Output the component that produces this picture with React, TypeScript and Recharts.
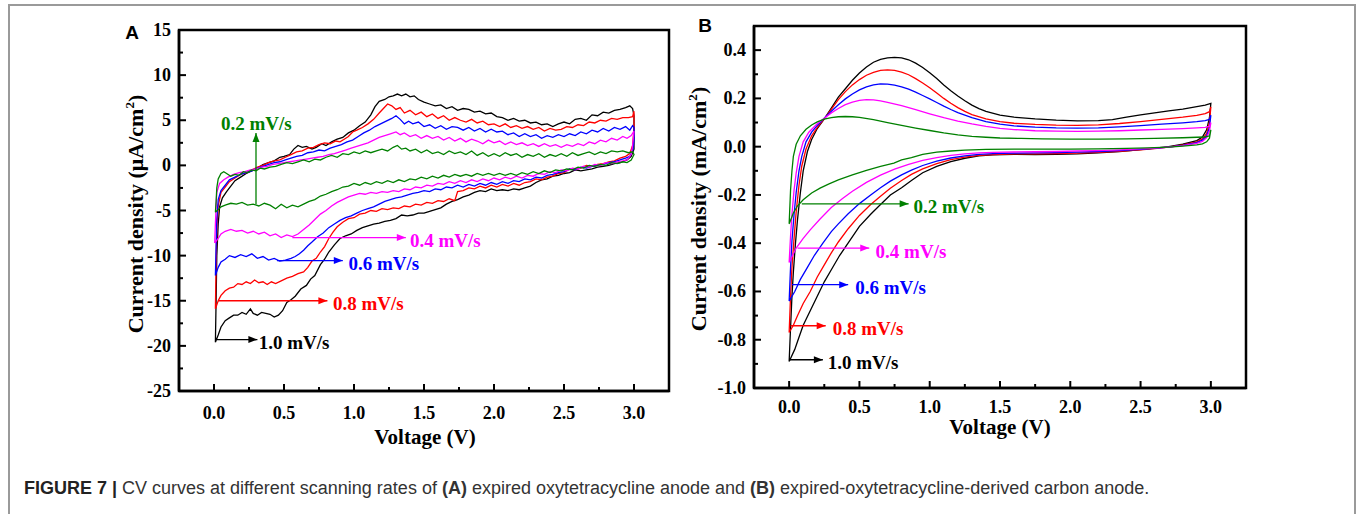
import React from 'react';
import { ComposedChart, Line, XAxis, YAxis, ReferenceArea, ReferenceDot } from 'recharts';

type P = [number, number];

// ---------- Panel A : expired oxytetracycline anode (µA/cm²) ----------
const A_RATE_10: P[] = [
  [0.01,-19.6],[0.015,-15],[0.02,-10],[0.03,-6.5],[0.04,-4.6],[0.06,-3.6],[0.09,-2.9],[0.12,-2.3],[0.15,-1.7],[0.19,-1.3],[0.23,-0.9],[0.27,-0.6],[0.31,-0.3],[0.35,0.1],[0.39,0.3],[0.43,0.5],[0.47,0.9],[0.5,1.0],[0.54,1.2],[0.57,1.8],[0.6,2.2],[0.63,2.0],[0.66,2.1],[0.7,1.8],[0.73,2.0],[0.77,2.4],[0.8,2.2],[0.84,2.6],[0.88,2.9],[0.92,3.1],[0.96,3.6],[1.0,3.9],[1.04,4.4],[1.08,4.8],[1.12,5.6],[1.15,6.5],[1.18,7.1],[1.22,7.3],[1.25,7.6],[1.28,7.7],[1.31,7.9],[1.34,7.7],[1.37,7.9],[1.4,7.6],[1.43,7.7],[1.46,7.3],[1.5,7.0],[1.54,6.8],[1.58,6.6],[1.62,6.7],[1.66,6.3],[1.7,6.5],[1.74,6.1],[1.78,6.3],[1.82,6.2],[1.86,5.9],[1.9,6.0],[1.94,5.7],[1.98,5.8],[2.02,5.4],[2.06,5.3],[2.1,5.0],[2.14,5.2],[2.18,4.9],[2.22,5.0],[2.26,4.7],[2.3,4.8],[2.34,4.5],[2.38,4.6],[2.42,4.3],[2.46,4.6],[2.5,4.8],[2.54,4.6],[2.58,5.1],[2.62,5.2],[2.66,5.0],[2.7,5.6],[2.74,5.5],[2.78,5.9],[2.82,5.8],[2.86,6.1],[2.9,6.2],[2.94,6.4],[2.97,6.6],[2.99,6.3],[3.0,5.5],[3.0,3.5],[3.0,1.8],
  [2.98,1.0],[2.95,0.6],[2.9,0.3],[2.86,0.2],[2.82,0.0],[2.78,-0.1],[2.74,-0.2],[2.7,-0.4],[2.66,-0.5],[2.62,-0.6],[2.58,-0.5],[2.54,-0.8],[2.5,-0.9],[2.46,-1.1],[2.42,-1.2],[2.38,-1.5],[2.34,-1.6],[2.3,-1.9],[2.26,-2.3],[2.22,-2.5],[2.18,-2.7],[2.14,-2.6],[2.1,-2.8],[2.06,-2.7],[2.02,-2.8],[1.98,-2.6],[1.94,-2.9],[1.9,-2.8],[1.86,-3.0],[1.82,-3.3],[1.78,-3.5],[1.74,-3.8],[1.7,-4.0],[1.66,-4.3],[1.62,-4.7],[1.58,-4.9],[1.54,-5.1],[1.5,-5.3],[1.46,-5.3],[1.42,-5.5],[1.38,-5.6],[1.34,-5.5],[1.3,-5.9],[1.26,-6.1],[1.22,-6.2],[1.18,-6.4],[1.14,-6.5],[1.1,-6.7],[1.06,-6.9],[1.02,-7.2],[0.98,-7.6],[0.94,-7.8],[0.9,-8.1],[0.86,-8.8],[0.82,-9.6],[0.79,-10.4],[0.76,-11.0],[0.72,-12.2],[0.69,-12.6],[0.66,-13.3],[0.62,-13.7],[0.58,-14.5],[0.55,-14.9],[0.52,-15.2],[0.49,-16.1],[0.46,-16.6],[0.43,-16.8],[0.4,-16.5],[0.37,-16.4],[0.34,-16.3],[0.31,-16.6],[0.28,-16.4],[0.26,-15.9],[0.23,-16.5],[0.2,-16.3],[0.17,-16.6],[0.14,-16.6],[0.11,-16.9],[0.08,-17.2],[0.05,-17.9],[0.03,-18.8],[0.01,-19.6],
];

const A_RATE_08: P[] = [
  [0.01,-15.9],[0.015,-11],[0.02,-7],[0.03,-4.5],[0.05,-3.0],[0.08,-2.4],[0.11,-1.8],[0.15,-1.4],[0.19,-1.0],[0.23,-0.8],[0.27,-0.5],[0.31,-0.2],[0.35,0.0],[0.39,0.3],[0.43,0.5],[0.47,0.6],[0.51,0.9],[0.55,1.2],[0.59,1.5],[0.63,1.6],[0.67,1.9],[0.71,2.0],[0.75,2.3],[0.79,2.5],[0.83,2.4],[0.87,2.7],[0.9,2.6],[0.93,2.9],[0.96,3.2],[0.99,3.7],[1.02,3.9],[1.06,4.2],[1.1,4.6],[1.14,5.1],[1.18,5.8],[1.21,6.3],[1.24,6.8],[1.27,6.6],[1.3,6.2],[1.33,6.4],[1.36,5.8],[1.4,6.1],[1.44,5.6],[1.48,5.9],[1.52,5.4],[1.56,5.7],[1.6,5.2],[1.64,5.5],[1.68,5.0],[1.72,5.3],[1.76,5.0],[1.8,4.8],[1.84,5.1],[1.88,4.7],[1.92,4.9],[1.96,4.5],[2.0,4.6],[2.04,4.3],[2.08,4.6],[2.12,4.2],[2.16,4.4],[2.2,4.1],[2.24,4.3],[2.28,4.0],[2.32,4.2],[2.36,3.8],[2.4,4.1],[2.44,3.9],[2.48,4.0],[2.52,4.3],[2.56,4.2],[2.6,4.5],[2.64,4.4],[2.68,4.8],[2.72,4.7],[2.76,5.0],[2.8,4.9],[2.84,5.2],[2.88,5.1],[2.92,5.3],[2.96,5.3],[2.99,5.4],[3.0,6.0],[3.0,4.0],[2.99,2.2],
  [2.97,1.3],[2.94,1.0],[2.9,0.8],[2.86,0.5],[2.82,0.4],[2.78,0.2],[2.74,0.1],[2.7,-0.1],[2.66,0.0],[2.62,-0.3],[2.58,-0.5],[2.54,-0.4],[2.5,-0.8],[2.46,-0.9],[2.42,-1.2],[2.38,-1.3],[2.34,-1.6],[2.3,-1.5],[2.26,-1.8],[2.22,-1.9],[2.18,-2.2],[2.14,-2.0],[2.1,-2.3],[2.06,-2.1],[2.02,-2.4],[1.98,-2.2],[1.94,-2.5],[1.9,-2.3],[1.86,-2.6],[1.82,-2.5],[1.78,-2.8],[1.74,-2.9],[1.72,-3.9],[1.68,-3.7],[1.64,-4.0],[1.6,-3.9],[1.56,-4.2],[1.52,-4.1],[1.48,-4.4],[1.44,-4.3],[1.4,-4.6],[1.36,-4.5],[1.32,-4.8],[1.28,-4.7],[1.24,-4.9],[1.2,-4.8],[1.16,-5.1],[1.12,-5.0],[1.08,-5.3],[1.04,-5.4],[1.0,-5.8],[0.96,-5.9],[0.92,-6.3],[0.88,-6.8],[0.85,-7.4],[0.82,-8.1],[0.79,-9.0],[0.76,-9.6],[0.73,-10.3],[0.7,-10.6],[0.67,-11.3],[0.64,-11.8],[0.6,-12.0],[0.56,-12.3],[0.52,-12.5],[0.48,-12.8],[0.44,-13.1],[0.41,-12.9],[0.38,-13.2],[0.35,-12.9],[0.32,-13.0],[0.29,-12.7],[0.26,-13.1],[0.23,-12.9],[0.2,-13.2],[0.17,-13.1],[0.14,-13.5],[0.11,-13.6],[0.08,-13.9],[0.05,-14.4],[0.03,-15.0],[0.01,-15.9],
];

const A_RATE_06: P[] = [
  [0.01,-12.2],[0.015,-9],[0.02,-6],[0.03,-3.8],[0.05,-2.8],[0.08,-2.2],[0.11,-1.6],[0.15,-1.3],[0.19,-1.0],[0.23,-0.8],[0.27,-0.6],[0.31,-0.3],[0.35,-0.1],[0.39,0.1],[0.43,0.3],[0.47,0.4],[0.51,0.6],[0.55,0.8],[0.59,1.0],[0.63,1.1],[0.67,1.4],[0.71,1.5],[0.75,1.7],[0.79,1.6],[0.83,1.9],[0.87,2.1],[0.91,2.3],[0.95,2.6],[0.99,2.8],[1.03,3.2],[1.07,3.6],[1.11,3.9],[1.15,4.3],[1.19,4.6],[1.23,4.9],[1.27,5.2],[1.3,5.5],[1.33,5.1],[1.36,4.6],[1.39,4.9],[1.42,4.6],[1.46,4.8],[1.5,4.3],[1.54,4.5],[1.58,4.1],[1.62,4.4],[1.66,4.0],[1.7,4.3],[1.74,4.2],[1.78,3.9],[1.82,4.2],[1.86,3.8],[1.9,4.1],[1.94,3.7],[1.98,4.0],[2.02,3.7],[2.06,3.8],[2.1,3.4],[2.14,3.6],[2.18,3.2],[2.22,3.5],[2.26,3.2],[2.3,3.4],[2.34,3.0],[2.38,3.3],[2.42,3.1],[2.46,3.4],[2.5,3.2],[2.54,3.5],[2.58,3.3],[2.62,3.7],[2.66,3.5],[2.7,3.9],[2.74,3.7],[2.78,4.1],[2.82,3.8],[2.86,4.2],[2.9,4.0],[2.94,4.3],[2.97,3.9],[2.99,4.4],[3.0,4.2],[3.0,2.8],[2.99,1.6],
  [2.97,1.0],[2.94,0.8],[2.9,0.6],[2.86,0.4],[2.82,0.3],[2.78,0.1],[2.74,0.0],[2.7,-0.1],[2.66,-0.3],[2.62,-0.2],[2.58,-0.5],[2.54,-0.4],[2.5,-0.7],[2.46,-0.8],[2.42,-1.0],[2.38,-1.1],[2.34,-1.4],[2.3,-1.3],[2.26,-1.6],[2.22,-1.5],[2.18,-1.8],[2.14,-1.7],[2.1,-2.0],[2.06,-1.8],[2.02,-2.1],[1.98,-1.9],[1.94,-2.2],[1.9,-2.0],[1.86,-2.3],[1.82,-2.1],[1.78,-2.4],[1.74,-2.2],[1.7,-2.5],[1.66,-2.4],[1.62,-2.7],[1.58,-2.6],[1.54,-2.9],[1.5,-2.8],[1.46,-3.0],[1.42,-3.1],[1.38,-3.3],[1.34,-3.5],[1.3,-3.6],[1.26,-3.8],[1.22,-4.0],[1.18,-4.3],[1.14,-4.6],[1.1,-4.8],[1.06,-5.0],[1.02,-5.3],[0.98,-5.6],[0.94,-5.8],[0.9,-6.1],[0.86,-6.5],[0.82,-6.9],[0.78,-7.5],[0.74,-7.9],[0.7,-8.5],[0.67,-8.9],[0.64,-9.4],[0.61,-9.8],[0.58,-10.1],[0.55,-10.3],[0.51,-10.5],[0.47,-10.6],[0.43,-10.3],[0.39,-10.5],[0.35,-10.1],[0.31,-10.3],[0.27,-9.8],[0.23,-10.1],[0.19,-9.9],[0.15,-10.2],[0.11,-10.0],[0.08,-10.4],[0.05,-10.7],[0.03,-11.3],[0.01,-12.2],
];

const A_RATE_04: P[] = [
  [0.005,-8.6],[0.01,-6.5],[0.015,-4.5],[0.02,-3.0],[0.04,-2.0],[0.07,-1.6],[0.1,-1.3],[0.14,-1.0],[0.18,-0.8],[0.22,-0.7],[0.26,-0.5],[0.3,-0.4],[0.34,-0.2],[0.38,-0.1],[0.42,0.1],[0.46,0.2],[0.5,0.3],[0.54,0.4],[0.58,0.5],[0.62,0.6],[0.66,0.7],[0.7,0.8],[0.74,0.9],[0.78,1.0],[0.82,1.2],[0.86,1.3],[0.9,1.5],[0.94,1.7],[0.98,1.9],[1.02,2.1],[1.06,2.3],[1.1,2.5],[1.14,2.8],[1.18,3.1],[1.22,3.3],[1.26,3.5],[1.3,3.7],[1.33,3.4],[1.36,3.6],[1.4,3.2],[1.44,3.4],[1.48,3.0],[1.52,3.3],[1.56,3.0],[1.6,3.2],[1.64,2.8],[1.68,3.1],[1.72,2.7],[1.76,3.0],[1.8,2.6],[1.84,2.9],[1.88,2.7],[1.92,2.4],[1.96,2.8],[2.0,2.5],[2.04,2.7],[2.08,2.3],[2.12,2.6],[2.16,2.3],[2.2,2.5],[2.24,2.2],[2.28,2.4],[2.32,2.1],[2.36,2.4],[2.4,2.1],[2.44,2.3],[2.48,2.0],[2.52,2.3],[2.56,2.1],[2.6,2.4],[2.64,2.2],[2.68,2.6],[2.72,2.4],[2.76,2.8],[2.8,2.6],[2.84,3.0],[2.88,2.8],[2.92,3.2],[2.95,3.0],[2.98,3.3],[3.0,3.8],[2.99,2.2],[2.98,1.2],
  [2.95,0.6],[2.92,0.5],[2.88,0.4],[2.84,0.2],[2.8,0.3],[2.76,0.0],[2.72,0.1],[2.68,-0.2],[2.64,-0.1],[2.6,-0.4],[2.56,-0.3],[2.52,-0.6],[2.48,-0.5],[2.44,-0.8],[2.4,-0.7],[2.36,-1.0],[2.32,-0.9],[2.28,-1.2],[2.24,-1.1],[2.2,-1.4],[2.16,-1.2],[2.12,-1.5],[2.08,-1.3],[2.04,-1.6],[2.0,-1.4],[1.96,-1.7],[1.92,-1.5],[1.88,-1.8],[1.84,-1.6],[1.8,-1.9],[1.76,-1.7],[1.72,-2.0],[1.68,-1.8],[1.64,-2.1],[1.6,-2.0],[1.56,-2.3],[1.52,-2.2],[1.48,-2.5],[1.44,-2.4],[1.4,-2.7],[1.36,-2.6],[1.32,-2.9],[1.28,-2.8],[1.24,-3.0],[1.2,-2.9],[1.16,-3.1],[1.12,-3.0],[1.08,-3.2],[1.04,-3.1],[1.0,-3.3],[0.96,-3.5],[0.92,-3.8],[0.88,-4.1],[0.84,-4.5],[0.8,-5.0],[0.76,-5.4],[0.72,-6.0],[0.68,-6.6],[0.64,-7.1],[0.6,-7.6],[0.56,-7.9],[0.52,-7.7],[0.48,-8.0],[0.44,-7.6],[0.4,-7.8],[0.36,-7.4],[0.32,-7.6],[0.28,-7.3],[0.24,-7.5],[0.2,-7.2],[0.16,-7.3],[0.12,-7.1],[0.08,-7.3],[0.05,-7.6],[0.03,-8.1],[0.005,-8.6],
];

const A_RATE_02: P[] = [
  [0.01,-5.2],[0.015,-4.0],[0.02,-2.5],[0.03,-1.5],[0.05,-0.9],[0.07,-0.7],[0.09,-0.9],[0.12,-1.2],[0.15,-1.0],[0.18,-1.1],[0.21,-0.7],[0.24,-0.8],[0.27,-0.5],[0.3,-0.6],[0.33,-0.3],[0.36,-0.4],[0.4,-0.2],[0.44,-0.1],[0.48,0.1],[0.52,0.3],[0.56,0.2],[0.6,0.4],[0.64,0.6],[0.68,0.4],[0.72,0.7],[0.76,0.6],[0.8,0.9],[0.84,1.1],[0.88,0.9],[0.92,1.3],[0.96,1.2],[1.0,1.5],[1.04,1.3],[1.08,1.6],[1.12,1.4],[1.16,1.6],[1.2,1.8],[1.24,1.6],[1.28,2.0],[1.31,2.2],[1.34,1.8],[1.37,1.9],[1.4,1.6],[1.44,1.8],[1.48,1.4],[1.52,1.7],[1.56,1.3],[1.6,1.5],[1.64,1.2],[1.68,1.6],[1.72,1.3],[1.76,1.5],[1.8,1.2],[1.84,1.6],[1.88,1.1],[1.92,1.4],[1.96,1.0],[2.0,1.3],[2.04,1.0],[2.08,1.4],[2.12,1.1],[2.16,1.3],[2.2,0.9],[2.24,1.2],[2.28,1.0],[2.32,1.3],[2.36,0.9],[2.4,1.2],[2.44,1.0],[2.48,1.3],[2.52,1.0],[2.56,1.4],[2.6,1.1],[2.64,1.3],[2.68,1.5],[2.72,1.2],[2.76,1.5],[2.8,1.3],[2.84,1.6],[2.88,1.5],[2.92,1.6],[2.96,1.4],[2.99,1.5],[3.0,1.2],
  [2.98,0.6],[2.95,0.3],[2.92,0.4],[2.88,0.2],[2.84,0.3],[2.8,0.0],[2.76,0.1],[2.72,-0.1],[2.68,0.0],[2.64,-0.3],[2.6,-0.2],[2.56,-0.5],[2.52,-0.4],[2.48,-0.6],[2.44,-0.5],[2.4,-0.8],[2.36,-0.6],[2.32,-0.9],[2.28,-0.7],[2.24,-1.0],[2.2,-0.8],[2.16,-1.1],[2.12,-0.9],[2.08,-1.1],[2.04,-0.9],[2.0,-1.1],[1.96,-0.9],[1.92,-1.1],[1.88,-0.9],[1.84,-1.2],[1.8,-1.0],[1.76,-1.2],[1.72,-1.0],[1.68,-1.3],[1.64,-1.1],[1.6,-1.4],[1.56,-1.2],[1.52,-1.5],[1.48,-1.3],[1.44,-1.6],[1.4,-1.5],[1.36,-1.8],[1.32,-1.6],[1.28,-1.9],[1.24,-1.7],[1.2,-2.0],[1.16,-1.8],[1.12,-2.1],[1.08,-1.9],[1.04,-2.2],[1.0,-2.0],[0.96,-2.3],[0.92,-2.4],[0.88,-2.7],[0.84,-2.9],[0.8,-3.2],[0.76,-3.4],[0.72,-3.8],[0.68,-4.0],[0.64,-4.3],[0.6,-4.6],[0.56,-4.4],[0.52,-4.7],[0.48,-4.3],[0.44,-4.8],[0.4,-4.4],[0.36,-4.2],[0.32,-4.5],[0.28,-4.3],[0.24,-4.4],[0.2,-4.1],[0.16,-4.3],[0.12,-4.2],[0.08,-4.4],[0.05,-4.6],[0.03,-4.9],[0.01,-5.2],
];

// ---------- Panel B : derived carbon anode (mA/cm²) ----------
const B_RATE_10: P[] = [
  [0.0,-0.89],[0.01,-0.75],[0.02,-0.62],[0.03,-0.52],[0.045,-0.4],[0.06,-0.3],[0.08,-0.19],[0.1,-0.1],[0.13,-0.02],[0.16,0.03],[0.2,0.075],[0.25,0.115],[0.3,0.16],[0.35,0.205],[0.4,0.24],[0.45,0.275],[0.5,0.305],[0.55,0.33],[0.6,0.35],[0.65,0.362],[0.7,0.368],[0.75,0.37],[0.8,0.368],[0.85,0.36],[0.9,0.346],[0.95,0.328],[1.0,0.306],[1.05,0.282],[1.1,0.256],[1.15,0.232],[1.2,0.21],[1.25,0.19],[1.3,0.172],[1.35,0.158],[1.4,0.146],[1.5,0.131],[1.6,0.122],[1.75,0.115],[1.9,0.11],[2.05,0.107],[2.2,0.108],[2.3,0.112],[2.4,0.122],[2.5,0.132],[2.6,0.14],[2.7,0.148],[2.8,0.156],[2.9,0.166],[2.96,0.172],[3.0,0.179],
  [2.99,0.12],[2.97,0.07],[2.94,0.04],[2.9,0.025],[2.8,0.01],[2.7,0.0],[2.6,-0.006],[2.5,-0.012],[2.35,-0.02],[2.2,-0.026],[2.05,-0.03],[1.9,-0.032],[1.75,-0.033],[1.6,-0.032],[1.45,-0.034],[1.35,-0.038],[1.25,-0.048],[1.15,-0.062],[1.05,-0.082],[0.95,-0.108],[0.87,-0.14],[0.8,-0.17],[0.72,-0.2],[0.65,-0.24],[0.58,-0.28],[0.5,-0.33],[0.43,-0.39],[0.36,-0.45],[0.3,-0.51],[0.25,-0.56],[0.2,-0.62],[0.15,-0.68],[0.1,-0.74],[0.07,-0.79],[0.04,-0.84],[0.0,-0.89],
];

const B_RATE_08: P[] = [
  [0.0,-0.77],[0.01,-0.62],[0.02,-0.5],[0.035,-0.38],[0.05,-0.27],[0.07,-0.16],[0.09,-0.08],[0.12,-0.01],[0.16,0.045],[0.2,0.08],[0.25,0.115],[0.3,0.155],[0.35,0.195],[0.4,0.228],[0.45,0.256],[0.5,0.278],[0.55,0.296],[0.6,0.308],[0.65,0.316],[0.7,0.318],[0.75,0.316],[0.8,0.309],[0.85,0.298],[0.9,0.282],[0.95,0.264],[1.0,0.244],[1.05,0.222],[1.1,0.2],[1.15,0.18],[1.2,0.162],[1.25,0.146],[1.3,0.133],[1.4,0.115],[1.5,0.104],[1.6,0.097],[1.75,0.092],[1.9,0.089],[2.05,0.088],[2.2,0.09],[2.35,0.096],[2.5,0.104],[2.6,0.11],[2.7,0.116],[2.8,0.122],[2.9,0.13],[2.96,0.137],[2.99,0.145],[3.0,0.165],
  [2.99,0.1],[2.97,0.055],[2.94,0.032],[2.9,0.02],[2.8,0.007],[2.7,-0.002],[2.6,-0.008],[2.5,-0.013],[2.35,-0.019],[2.2,-0.024],[2.05,-0.027],[1.9,-0.029],[1.75,-0.03],[1.6,-0.03],[1.45,-0.033],[1.35,-0.036],[1.25,-0.043],[1.15,-0.054],[1.05,-0.07],[0.95,-0.092],[0.87,-0.115],[0.8,-0.14],[0.72,-0.172],[0.65,-0.205],[0.58,-0.24],[0.5,-0.285],[0.42,-0.34],[0.35,-0.395],[0.3,-0.44],[0.25,-0.49],[0.2,-0.54],[0.15,-0.6],[0.1,-0.65],[0.06,-0.7],[0.03,-0.74],[0.0,-0.77],
];

const B_RATE_06: P[] = [
  [0.0,-0.64],[0.01,-0.5],[0.02,-0.39],[0.035,-0.28],[0.05,-0.19],[0.07,-0.1],[0.09,-0.04],[0.12,0.02],[0.16,0.06],[0.2,0.088],[0.25,0.118],[0.3,0.147],[0.35,0.174],[0.4,0.198],[0.45,0.218],[0.5,0.235],[0.55,0.248],[0.6,0.256],[0.65,0.26],[0.7,0.259],[0.75,0.255],[0.8,0.248],[0.85,0.238],[0.9,0.226],[0.95,0.212],[1.0,0.198],[1.05,0.183],[1.1,0.168],[1.15,0.154],[1.2,0.141],[1.3,0.12],[1.4,0.104],[1.5,0.093],[1.6,0.086],[1.75,0.081],[1.9,0.078],[2.05,0.077],[2.2,0.078],[2.35,0.082],[2.5,0.087],[2.65,0.093],[2.8,0.099],[2.9,0.104],[2.96,0.108],[2.99,0.113],[3.0,0.13],
  [2.99,0.08],[2.97,0.045],[2.94,0.027],[2.9,0.017],[2.8,0.005],[2.7,-0.002],[2.6,-0.007],[2.5,-0.011],[2.35,-0.016],[2.2,-0.02],[2.05,-0.023],[1.9,-0.025],[1.75,-0.026],[1.6,-0.027],[1.45,-0.029],[1.35,-0.032],[1.25,-0.038],[1.15,-0.047],[1.05,-0.06],[0.95,-0.078],[0.87,-0.097],[0.8,-0.117],[0.72,-0.143],[0.65,-0.17],[0.58,-0.2],[0.5,-0.236],[0.42,-0.278],[0.35,-0.32],[0.3,-0.352],[0.24,-0.4],[0.18,-0.45],[0.13,-0.5],[0.08,-0.55],[0.04,-0.6],[0.0,-0.64],
];

const B_RATE_04: P[] = [
  [0.0,-0.48],[0.01,-0.37],[0.02,-0.28],[0.035,-0.18],[0.05,-0.11],[0.07,-0.04],[0.1,0.02],[0.14,0.06],[0.2,0.095],[0.25,0.118],[0.3,0.14],[0.35,0.158],[0.4,0.174],[0.45,0.185],[0.5,0.192],[0.55,0.195],[0.6,0.194],[0.65,0.19],[0.7,0.184],[0.8,0.17],[0.9,0.153],[1.0,0.136],[1.1,0.12],[1.2,0.106],[1.3,0.094],[1.4,0.084],[1.5,0.076],[1.6,0.071],[1.75,0.066],[1.9,0.064],[2.05,0.063],[2.2,0.064],[2.35,0.066],[2.5,0.069],[2.65,0.072],[2.8,0.075],[2.9,0.078],[2.96,0.08],[2.99,0.085],[3.0,0.1],
  [2.99,0.065],[2.97,0.038],[2.94,0.022],[2.9,0.014],[2.8,0.004],[2.7,-0.002],[2.6,-0.006],[2.5,-0.009],[2.35,-0.013],[2.2,-0.016],[2.05,-0.018],[1.9,-0.02],[1.75,-0.021],[1.6,-0.022],[1.45,-0.024],[1.35,-0.026],[1.25,-0.03],[1.15,-0.036],[1.05,-0.045],[0.95,-0.057],[0.85,-0.073],[0.75,-0.093],[0.65,-0.118],[0.55,-0.148],[0.45,-0.185],[0.38,-0.215],[0.3,-0.252],[0.22,-0.3],[0.15,-0.345],[0.1,-0.38],[0.05,-0.42],[0.0,-0.48],
];

const B_RATE_02: P[] = [
  [0.0,-0.32],[0.005,-0.25],[0.01,-0.18],[0.02,-0.1],[0.03,-0.04],[0.05,0.01],[0.08,0.045],[0.12,0.072],[0.16,0.09],[0.2,0.103],[0.25,0.114],[0.3,0.12],[0.35,0.124],[0.4,0.125],[0.45,0.124],[0.5,0.121],[0.6,0.112],[0.7,0.1],[0.8,0.088],[0.9,0.077],[1.0,0.067],[1.1,0.057],[1.2,0.049],[1.3,0.043],[1.4,0.039],[1.5,0.036],[1.65,0.034],[1.8,0.032],[2.0,0.031],[2.2,0.031],[2.4,0.032],[2.6,0.034],[2.8,0.037],[2.9,0.039],[2.96,0.04],[2.99,0.045],[3.0,0.07],
  [2.99,0.035],[2.97,0.02],[2.94,0.012],[2.9,0.007],[2.8,0.002],[2.7,-0.002],[2.55,-0.005],[2.4,-0.007],[2.2,-0.009],[2.0,-0.01],[1.8,-0.01],[1.6,-0.01],[1.4,-0.011],[1.25,-0.014],[1.15,-0.018],[1.05,-0.023],[0.95,-0.032],[0.87,-0.045],[0.8,-0.055],[0.745,-0.068],[0.65,-0.082],[0.55,-0.098],[0.45,-0.117],[0.35,-0.138],[0.28,-0.155],[0.22,-0.172],[0.16,-0.192],[0.1,-0.22],[0.06,-0.245],[0.03,-0.275],[0.0,-0.32],
];

// ---------- ticks ----------
const A_X_TICKS = [0, 0.25, 0.5, 0.75, 1, 1.25, 1.5, 1.75, 2, 2.25, 2.5, 2.75, 3];
const A_Y_TICKS = [-25, -22.5, -20, -17.5, -15, -12.5, -10, -7.5, -5, -2.5, 0, 2.5, 5, 7.5, 10, 12.5, 15];
const B_X_TICKS = [0, 0.25, 0.5, 0.75, 1, 1.25, 1.5, 1.75, 2, 2.25, 2.5, 2.75, 3];
const B_Y_TICKS = [-1.0, -0.9, -0.8, -0.7, -0.6, -0.5, -0.4, -0.3, -0.2, -0.1, 0.0, 0.1, 0.2, 0.3, 0.4];

// ---------- scan-rate annotations (data coordinates) ----------
type Arrow = { rate: string; from: P; to: P; text: P; dir: 'up' | 'right' };
const A_ARROWS: Arrow[] = [
  { rate: '0.2 mV/s', from: [0.3, -4.3], to: [0.3, 3.6], text: [0.05, 5.0], dir: 'up' },
  { rate: '0.4 mV/s', from: [0.56, -8.0], to: [1.37, -8.0], text: [1.4, -8.0], dir: 'right' },
  { rate: '0.6 mV/s', from: [0.45, -10.55], to: [0.92, -10.55], text: [0.96, -10.55], dir: 'right' },
  { rate: '0.8 mV/s', from: [0.03, -15.0], to: [0.81, -15.0], text: [0.85, -15.0], dir: 'right' },
  { rate: '1.0 mV/s', from: [0.02, -19.3], to: [0.31, -19.3], text: [0.32, -19.3], dir: 'right' },
];
const B_ARROWS: Arrow[] = [
  { rate: '0.2 mV/s', from: [0.09, -0.237], to: [0.85, -0.237], text: [0.885, -0.237], dir: 'right' },
  { rate: '0.4 mV/s', from: [0.06, -0.42], to: [0.57, -0.42], text: [0.615, -0.42], dir: 'right' },
  { rate: '0.6 mV/s', from: [0.02, -0.572], to: [0.42, -0.572], text: [0.47, -0.572], dir: 'right' },
  { rate: '0.8 mV/s', from: [0.01, -0.742], to: [0.26, -0.742], text: [0.31, -0.742], dir: 'right' },
  { rate: '1.0 mV/s', from: [0.0, -0.883], to: [0.24, -0.883], text: [0.275, -0.883], dir: 'right' },
];

const A_LOOPS: { rate: string; pts: P[] }[] = [
  { rate: '1.0 mV/s', pts: A_RATE_10 },
  { rate: '0.8 mV/s', pts: A_RATE_08 },
  { rate: '0.6 mV/s', pts: A_RATE_06 },
  { rate: '0.4 mV/s', pts: A_RATE_04 },
  { rate: '0.2 mV/s', pts: A_RATE_02 },
];
const B_LOOPS: { rate: string; pts: P[] }[] = [
  { rate: '1.0 mV/s', pts: B_RATE_10 },
  { rate: '0.8 mV/s', pts: B_RATE_08 },
  { rate: '0.6 mV/s', pts: B_RATE_06 },
  { rate: '0.4 mV/s', pts: B_RATE_04 },
  { rate: '0.2 mV/s', pts: B_RATE_02 },
];

const COLORS: Record<string, string> = {
  '1.0 mV/s': '#000000',
  '0.8 mV/s': '#ff0000',
  '0.6 mV/s': '#0000ff',
  '0.4 mV/s': '#ff00ff',
  '0.2 mV/s': '#008000',
};

const SERIF = "'Liberation Serif','Times New Roman',serif";
const SANS = "'Liberation Sans',Arial,sans-serif";

const toPts = (arr: P[]) => arr.map(([x, y]) => ({ x, y }));

const near = (v: number, step: number) => Math.abs(v / step - Math.round(v / step)) < 1e-6;

function makeXTick(labelOffset: number) {
  return (p: any) => {
    const { x, y, payload } = p;
    const v = payload.value as number;
    const major = near(v, 0.5);
    return (
      <g>
        <line x1={x} y1={y} x2={x} y2={y - (major ? 7 : 4)} stroke="#000" strokeWidth={2} />
        {major && (
          <text x={x} y={y + labelOffset} textAnchor="middle" dominantBaseline="central" fontFamily={SERIF} fontWeight="bold" fontSize={18} fill="#000">
            {v.toFixed(1)}
          </text>
        )}
      </g>
    );
  };
}

function makeYTick(majorStep: number, fmt: (v: number) => string) {
  return (p: any) => {
    const { x, y, payload } = p;
    const v = payload.value as number;
    const major = near(v, majorStep);
    return (
      <g>
        <line x1={x} y1={y} x2={x + (major ? 7 : 4)} y2={y} stroke="#000" strokeWidth={2} />
        {major && (
          <text x={x - 8} y={y} textAnchor="end" dominantBaseline="central" fontFamily={SERIF} fontWeight="bold" fontSize={18} fill="#000">
            {fmt(v)}
          </text>
        )}
      </g>
    );
  };
}

function arrowDot(dir: 'up' | 'right', color: string) {
  return (p: any) => {
    const { cx, cy, index } = p;
    if (index !== 1 || cx == null) return <g />;
    const d =
      dir === 'right'
        ? `M${cx},${cy} L${cx - 9},${cy - 3.5} L${cx - 9},${cy + 3.5} Z`
        : `M${cx},${cy} L${cx - 3.5},${cy + 9} L${cx + 3.5},${cy + 9} Z`;
    return <path d={d} fill={color} stroke="none" />;
  };
}

type PanelProps = {
  left: number;
  width: number;
  height: number;
  margin: { top: number; right: number; bottom: number; left: number };
  xDomain: [number, number];
  yDomain: [number, number];
  xTicks: number[];
  yTicks: number[];
  yMajor: number;
  yFmt: (v: number) => string;
  xLabelOffset: number;
  loops: { rate: string; pts: P[] }[];
  arrows: Arrow[];
};

function CVPanel(props: PanelProps) {
  const { left, width, height, margin, xDomain, yDomain, xTicks, yTicks, yMajor, yFmt, xLabelOffset, loops, arrows } = props;
  return (
    <div style={{ position: 'absolute', left, top: 0 }}>
      <ComposedChart width={width} height={height} margin={margin}>
        <XAxis
          type="number"
          dataKey="x"
          domain={xDomain}
          allowDataOverflow
          ticks={xTicks}
          interval={0}
          tickSize={0}
          tickMargin={0}
          tickLine={false}
          axisLine={{ stroke: '#000', strokeWidth: 2.5 }}
          height={40}
          tick={makeXTick(xLabelOffset)}
        />
        <YAxis
          type="number"
          domain={yDomain}
          allowDataOverflow
          ticks={yTicks}
          interval={0}
          tickSize={0}
          tickMargin={0}
          tickLine={false}
          axisLine={{ stroke: '#000', strokeWidth: 2.5 }}
          width={60}
          tick={makeYTick(yMajor, yFmt)}
        />
        <ReferenceArea
          x1={xDomain[0]}
          x2={xDomain[1]}
          y1={yDomain[0]}
          y2={yDomain[1]}
          fill="none"
          fillOpacity={0}
          stroke="#000"
          strokeWidth={2.5}
          ifOverflow="visible"
        />
        {loops.map((l) => (
          <Line
            key={l.rate}
            data={toPts(l.pts)}
            dataKey="y"
            type="linear"
            stroke={COLORS[l.rate]}
            strokeWidth={1.3}
            dot={false}
            activeDot={false}
            isAnimationActive={false}
          />
        ))}
        {arrows.map((a) => (
          <Line
            key={'arrow-' + a.rate}
            data={toPts([a.from, a.to])}
            dataKey="y"
            type="linear"
            stroke={COLORS[a.rate]}
            strokeWidth={1.3}
            dot={arrowDot(a.dir, COLORS[a.rate])}
            activeDot={false}
            isAnimationActive={false}
          />
        ))}
        {arrows.map((a) => (
          <ReferenceDot
            key={'label-' + a.rate}
            x={a.text[0]}
            y={a.text[1]}
            r={0}
            ifOverflow="visible"
            shape={(p: any) => (
              <text
                x={p.cx}
                y={p.cy}
                dy={3}
                textAnchor="start"
                dominantBaseline="central"
                fontFamily={SERIF}
                fontWeight="bold"
                fontSize={19}
                fill={COLORS[a.rate]}
              >
                {a.rate}
              </text>
            )}
          />
        ))}
      </ComposedChart>
    </div>
  );
}

const abs = (cx: number, cy: number, extra: React.CSSProperties = {}): React.CSSProperties => ({
  position: 'absolute',
  left: cx,
  top: cy,
  transform: 'translate(-50%, -50%)',
  whiteSpace: 'nowrap',
  lineHeight: 1,
  ...extra,
});

export default function App() {
  return (
    <div style={{ position: 'absolute', left: 0, top: 0, width: 1360, height: 514, background: '#fff', overflow: 'hidden' }}>
      <div
        style={{
          position: 'absolute',
          left: 8,
          top: 4,
          width: 1344,
          height: 540,
          border: '2px solid #9a9a9a',
        }}
      />
      {/* Panel A */}
      <CVPanel
        left={0}
        width={700}
        height={470}
        margin={{ top: 30, right: 31, bottom: 39, left: 119 }}
        xDomain={[-0.25, 3.25]}
        yDomain={[-25, 15]}
        xTicks={A_X_TICKS}
        yTicks={A_Y_TICKS}
        yMajor={5}
        yFmt={(v) => String(v)}
        xLabelOffset={22}
        loops={A_LOOPS}
        arrows={A_ARROWS}
      />
      {/* Panel B */}
      <CVPanel
        left={690}
        width={670}
        height={470}
        margin={{ top: 26, right: 114, bottom: 42, left: 4 }}
        xDomain={[-0.25, 3.25]}
        yDomain={[-1.0, 0.5]}
        xTicks={B_X_TICKS}
        yTicks={B_Y_TICKS}
        yMajor={0.2}
        yFmt={(v) => v.toFixed(1)}
        xLabelOffset={19}
        loops={B_LOOPS}
        arrows={B_ARROWS}
      />

      <div style={abs(132, 32, { fontFamily: SANS, fontWeight: 'bold', fontSize: 19, color: '#000' })}>A</div>
      <div style={abs(705, 25, { fontFamily: SANS, fontWeight: 'bold', fontSize: 19, color: '#000' })}>B</div>

      <div style={abs(425, 437, { fontFamily: SERIF, fontWeight: 'bold', fontSize: 21, color: '#000' })}>Voltage (V)</div>
      <div style={abs(1000, 427, { fontFamily: SERIF, fontWeight: 'bold', fontSize: 21, color: '#000' })}>Voltage (V)</div>

      <div style={abs(136, 214, { fontFamily: SERIF, fontWeight: 'bold', fontSize: 22, color: '#000', transform: 'translate(-50%, -50%) rotate(-90deg)' })}>
        Current density (μA/cm<sup style={{ fontSize: '0.6em', verticalAlign: '0.7em', lineHeight: 0 }}>2</sup>)
      </div>
      <div style={abs(699, 209, { fontFamily: SERIF, fontWeight: 'bold', fontSize: 22, color: '#000', transform: 'translate(-50%, -50%) rotate(-90deg)' })}>
        Current density (mA/cm<sup style={{ fontSize: '0.6em', verticalAlign: '0.7em', lineHeight: 0 }}>2</sup>)
      </div>

      <div
        style={{
          position: 'absolute',
          left: 24,
          top: 488,
          transform: 'translateY(-50%)',
          whiteSpace: 'nowrap',
          fontFamily: SANS,
          fontSize: 18,
          lineHeight: 1,
          color: '#333',
        }}
      >
        <b style={{ color: '#222' }}>FIGURE 7 | </b>CV curves at different scanning rates of <b>(A)</b> expired oxytetracycline anode and{' '}
        <b>(B)</b> expired-oxytetracycline-derived carbon anode.
      </div>
    </div>
  );
}
